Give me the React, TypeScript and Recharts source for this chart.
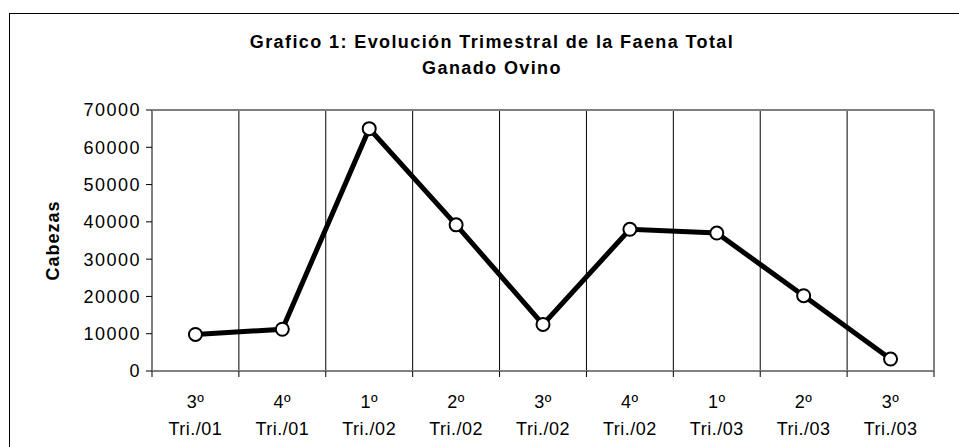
import React from 'react';
import { LineChart, Line, XAxis, YAxis, CartesianGrid, ReferenceLine } from 'recharts';

const quarterLabels = ['3º', '4º', '1º', '2º', '3º', '4º', '1º', '2º', '3º'];
const periodLabels = ['Tri./01', 'Tri./01', 'Tri./02', 'Tri./02', 'Tri./02', 'Tri./02', 'Tri./03', 'Tri./03', 'Tri./03'];
const faenaValues = [9800, 11200, 65000, 39200, 12500, 38000, 37000, 20200, 3200];
const yTicks = [0, 10000, 20000, 30000, 40000, 50000, 60000, 70000];
const titleLines = ['Grafico 1: Evolución Trimestral de la Faena Total', 'Ganado Ovino'];
const yAxisTitle = 'Cabezas';

const data = faenaValues.map((v, i) => ({
  idx: i,
  label: quarterLabels[i] + ' ' + periodLabels[i],
  value: v,
}));
const boundaryTicks = Array.from({ length: quarterLabels.length + 1 }, (_, i) => i - 0.5);

const FONT = '"Liberation Sans", Arial, Helvetica, sans-serif';

const CategoryTick = (props: any) => {
  const { x, y, index } = props;
  return (
    <g>
      <text x={x} y={y + 23} textAnchor="middle" fontFamily={FONT} fontSize={18} fill="#000" letterSpacing={0.5}>
        {quarterLabels[index]}
      </text>
      <text x={x} y={y + 50} textAnchor="middle" fontFamily={FONT} fontSize={18} fill="#000" letterSpacing={0.5}>
        {periodLabels[index]}
      </text>
    </g>
  );
};

const EmptyTick = () => <g />;

const YTitle = (props: any) => {
  const vb = props.viewBox || {};
  const cx = (vb.x || 0) + 59;
  const cy = (vb.y || 0) + (vb.height || 0) / 2;
  return (
    <text x={cx} y={cy} transform={`rotate(-90, ${cx}, ${cy})`} textAnchor="middle" fontFamily={FONT} fontWeight="bold" fontSize={18} fill="#000" letterSpacing={1}>
      {yAxisTitle}
    </text>
  );
};

export default function App() {
  return (
    <div style={{ position: 'absolute', left: 0, top: 0, width: 959, height: 447, overflow: 'hidden', background: '#fff' }}>
      <div style={{ position: 'absolute', left: 9, top: 13, width: 1000, height: 500, border: '1px solid #000', boxSizing: 'border-box' }} />
      <div style={{ position: 'absolute', left: 0, top: 29, width: 984, textAlign: 'center', fontFamily: FONT, fontWeight: 'bold', fontSize: 18, letterSpacing: 1.4, lineHeight: '26px', color: '#000' }}>
        <div>{titleLines[0]}</div>
        <div>{titleLines[1]}</div>
      </div>
      <div style={{ position: 'absolute', left: 0, top: 0 }}>
        <LineChart width={959} height={447} data={data} margin={{ top: 110, right: 25, bottom: 0, left: 0 }}>
          <CartesianGrid xAxisId="grid" horizontal={false} vertical stroke="#000" strokeWidth={1} />
          <XAxis
            xAxisId="grid"
            type="number"
            dataKey="idx"
            domain={[-0.5, 8.5]}
            ticks={boundaryTicks}
            interval={0}
            height={6}
            tick={<EmptyTick />}
            tickSize={6}
            tickLine={{ stroke: '#000', strokeWidth: 1 }}
            axisLine={{ stroke: '#808080', strokeWidth: 2 }}
          />
          <XAxis
            xAxisId="lab"
            type="category"
            dataKey="label"
            scale="band"
            height={70}
            axisLine={false}
            tickLine={false}
            interval={0}
            tick={<CategoryTick />}
          />
          <YAxis
            type="number"
            domain={[0, 70000]}
            ticks={yTicks}
            interval={0}
            width={152}
            tickSize={6}
            tickMargin={5}
            tickLine={{ stroke: '#000', strokeWidth: 1 }}
            axisLine={{ stroke: '#808080', strokeWidth: 2 }}
            tick={{ fill: '#000', fontSize: 18, fontFamily: FONT, letterSpacing: 1.5 } as any}
            label={<YTitle />}
          />
          <ReferenceLine xAxisId="grid" y={70000} stroke="#808080" strokeWidth={2} />
          <ReferenceLine xAxisId="grid" x={8.5} stroke="#808080" strokeWidth={2} />
          <Line
            xAxisId="grid"
            type="linear"
            dataKey="value"
            stroke="#000"
            strokeWidth={5}
            dot={{ r: 6.5, fill: '#fff', stroke: '#000', strokeWidth: 2 }}
            activeDot={false}
            isAnimationActive={false}
          />
        </LineChart>
      </div>
    </div>
  );
}
